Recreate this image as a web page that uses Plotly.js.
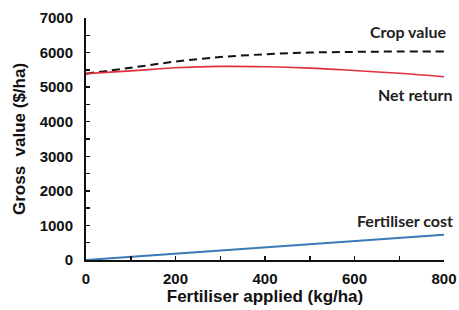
<!DOCTYPE html>
<html><head><meta charset="utf-8">
<script src="https://cdn.plot.ly/plotly-3.0.1.min.js"></script>
<style>html,body{margin:0;padding:0;background:#fff}#chart{width:459px;height:310px}</style>
</head><body><div id="chart"></div>
<script>
const fertiliser = [0, 100, 200, 300, 400, 500, 600, 700, 800];
const cropValue = [5390, 5560, 5740, 5870, 5950, 6000, 6020, 6030, 6030];
const netReturn = [5390, 5470, 5560, 5600, 5590, 5550, 5480, 5400, 5300];
const fertCost = [0, 90, 180, 270, 360, 450, 540, 630, 730];
const labels = ["Crop value", "Net return", "Fertiliser cost"];

const traces = [
  {x: fertiliser, y: cropValue, mode: 'lines', line: {color: '#111', width: 2, dash: '8px,5px', shape: 'spline'}},
  {x: fertiliser, y: netReturn, mode: 'lines', line: {color: '#e0303a', width: 1.6, shape: 'spline'}},
  {x: fertiliser, y: fertCost, mode: 'lines', line: {color: '#3a7ab8', width: 2}}
];
const annFont = {family: 'Lato, "Open Sans", sans-serif', size: 16, color: '#222', weight: 'bold'};
const axFont = {family: 'Liberation Sans, Arial, sans-serif', size: 15, color: '#111', weight: 'bold'};
const layout = {
  width: 459, height: 310,
  margin: {l: 86, r: 15, t: 18, b: 50},
  showlegend: false,
  plot_bgcolor: '#fff', paper_bgcolor: '#fff',
  xaxis: {
    range: [0, 800], dtick: 200, tick0: 0,
    ticks: 'inside', ticklen: 4, tickwidth: 1.5, tickcolor: '#111',
    minor: {dtick: 100, ticks: 'inside', ticklen: 4, tickwidth: 1.5, tickcolor: '#111'},
    showline: true, linecolor: '#111', linewidth: 2, showgrid: false, zeroline: false,
    tickfont: axFont, ticklabelstandoff: 4,
    title: {text: '<b>Fertiliser applied (kg/ha)</b>', font: {family: 'Liberation Sans, Arial, sans-serif', size: 17, color: '#111'}, standoff: 4}
  },
  yaxis: {
    range: [0, 7000], dtick: 1000, tick0: 0,
    ticks: 'inside', ticklen: 4, tickwidth: 1.5, tickcolor: '#111',
    minor: {dtick: 500, ticks: 'inside', ticklen: 4, tickwidth: 1.5, tickcolor: '#111'},
    showline: true, linecolor: '#111', linewidth: 2, showgrid: false, zeroline: false,
    tickfont: axFont, ticklabelstandoff: 8,
    title: {text: '<b>Gross  value ($/ha)</b>', font: {family: 'Liberation Sans, Arial, sans-serif', size: 17, color: '#111'}, standoff: 10}
  },
  annotations: [
    {x: 720, y: 6600, xref: 'x', yref: 'y', text: labels[0], showarrow: false, font: annFont},
    {x: 737, y: 4780, xref: 'x', yref: 'y', text: labels[1], showarrow: false, font: annFont},
    {x: 712, y: 1150, xref: 'x', yref: 'y', text: labels[2], showarrow: false, font: annFont}
  ]
};
Plotly.newPlot('chart', traces, layout, {displayModeBar: false, staticPlot: true});
</script></body></html>
